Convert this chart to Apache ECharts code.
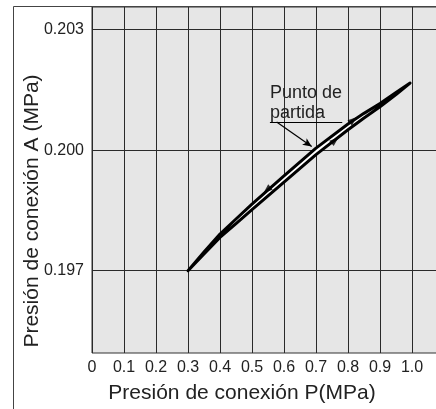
<!DOCTYPE html>
<html>
<head>
<meta charset="utf-8">
<script src="https://cdn.jsdelivr.net/npm/echarts@6/dist/echarts.min.js"></script>
<style>
html,body{margin:0;padding:0;background:#fff;}
#c{width:436px;height:409px;}
</style>
</head>
<body>
<div id="c"></div>
<script>
// Connection pressure P (MPa)
var pressureP = [0.3, 0.35, 0.4, 0.45, 0.5, 0.6, 0.7, 0.8, 0.85, 0.9, 0.95, 0.994];
// Connection pressure A (MPa), upper and lower branch of the hysteresis loop
var upperA = [0.197000, 0.197465, 0.197911, 0.198287, 0.198658, 0.199358, 0.200051, 0.200653, 0.200917, 0.201161, 0.201435, 0.201670];
var lowerA = [0.197000, 0.197415, 0.197829, 0.198173, 0.198522, 0.199202, 0.199889, 0.200507, 0.200803, 0.201079, 0.201385, 0.201670];
// direction arrows on the loop
var arrowP = [0.547, 0.759, 0.816];
var arrowA = [0.19901, 0.20024, 0.20075];
var arrowDir = ['down', 'up', 'up'];
// tick labels
var yTicks = [0.197, 0.200, 0.203];
var xTitle = 'Presión de conexión P(MPa)';
var yTitle = 'Presión de conexión A (MPa)';
var noteText = 'Punto de\npartida';
// annotation anchors (data coords)
var noteUnderline = [[0.556, 0.20070], [0.782, 0.20070]];
var noteLeader = [[0.577, 0.20070], [0.6866, 0.20009]];
var noteTextAt = [0.556, 0.20169];

var FONT = '"Liberation Sans", Arial, Helvetica, sans-serif';
var chart = echarts.init(document.getElementById('c'), null, {renderer: 'canvas'});

var arrowData = arrowP.map(function (p, i) {
  return {value: [p, arrowA[i]], symbolRotate: arrowDir[i] === 'up' ? -50 : 130};
});

var option = {
  animation: false,
  backgroundColor: '#fff',
  grid: {
    left: 92, top: 7, width: 352, height: 346,
    show: true, backgroundColor: '#e6e6e6', borderColor: '#333', borderWidth: 1,
    containLabel: false, outerBoundsMode: 'none'
  },
  xAxis: {
    type: 'value', min: 0, max: 1.1, interval: 0.1,
    axisLine: {show: false}, axisTick: {show: false},
    splitLine: {show: true, lineStyle: {color: '#2a2a2a', width: 1}},
    axisLabel: {
      color: '#222', fontFamily: FONT, fontSize: 16, margin: 7,
      formatter: function (v) { if (v === 0) return '0'; if (v > 1.05) return ''; return v.toFixed(1); }
    }
  },
  yAxis: {
    type: 'value', min: 0.19495, max: 0.203565,
    axisLine: {show: false},
    axisTick: {show: false, customValues: yTicks},
    splitLine: {show: true, lineStyle: {color: '#2a2a2a', width: 1}},
    axisLabel: {
      customValues: yTicks,
      color: '#222', fontFamily: FONT, fontSize: 16, margin: 8,
      formatter: function (v) { return v.toFixed(3); }
    }
  },
  series: [
    {
      type: 'custom',
      coordinateSystem: 'cartesian2d',
      data: [[pressureP[0], upperA[0]]],
      renderItem: function (params, api) {
        var pts = [];
        for (var i = 0; i < pressureP.length; i++) pts.push(api.coord([pressureP[i], upperA[i]]));
        for (var j = pressureP.length - 1; j >= 0; j--) pts.push(api.coord([pressureP[j], lowerA[j]]));
        return {
          type: 'polygon',
          shape: {points: pts, smooth: 0},
          style: {fill: '#ffffff', stroke: '#000', lineWidth: 3, lineJoin: 'round'}
        };
      },
      z: 3
    },
    {
      type: 'scatter',
      data: arrowData,
      symbol: 'triangle',
      symbolSize: [7, 9],
      itemStyle: {color: '#000'},
      z: 4
    },
    {
      type: 'line',
      data: [],
      z: 5,
      markLine: {
        silent: true,
        symbol: ['none', 'none'],
        label: {show: false},
        lineStyle: {color: '#000', width: 1.2, type: 'solid'},
        data: [
          [{coord: noteUnderline[0], symbol: 'none'}, {coord: noteUnderline[1], symbol: 'none'}],
          [{coord: noteLeader[0], symbol: 'none'}, {coord: noteLeader[1], symbol: 'arrow', symbolSize: [6, 9]}]
        ]
      }
    }
  ]
};
chart.setOption(option);

var tp = chart.convertToPixel({gridIndex: 0}, noteTextAt);
chart.setOption({
  graphic: [
    {
      type: 'rect', silent: true, z: 100,
      shape: {x: 13.5, y: 6.5, width: 700, height: 700},
      style: {fill: 'none', stroke: '#444', lineWidth: 1}
    },
    {
      type: 'text', silent: true, z: 100,
      x: tp[0], y: tp[1],
      style: {
        text: noteText, fill: '#222', font: '18px ' + FONT,
        align: 'left', verticalAlign: 'top', lineHeight: 20.5
      }
    },
    {
      type: 'text', silent: true, z: 100,
      x: 242, y: 393,
      style: {text: xTitle, fill: '#222', font: '21px ' + FONT, align: 'center', verticalAlign: 'middle'}
    },
    {
      type: 'text', silent: true, z: 100,
      x: 32, y: 211, rotation: Math.PI / 2,
      style: {text: yTitle, fill: '#222', font: '21px ' + FONT, align: 'center', verticalAlign: 'middle'}
    }
  ]
});
</script>
</body>
</html>
